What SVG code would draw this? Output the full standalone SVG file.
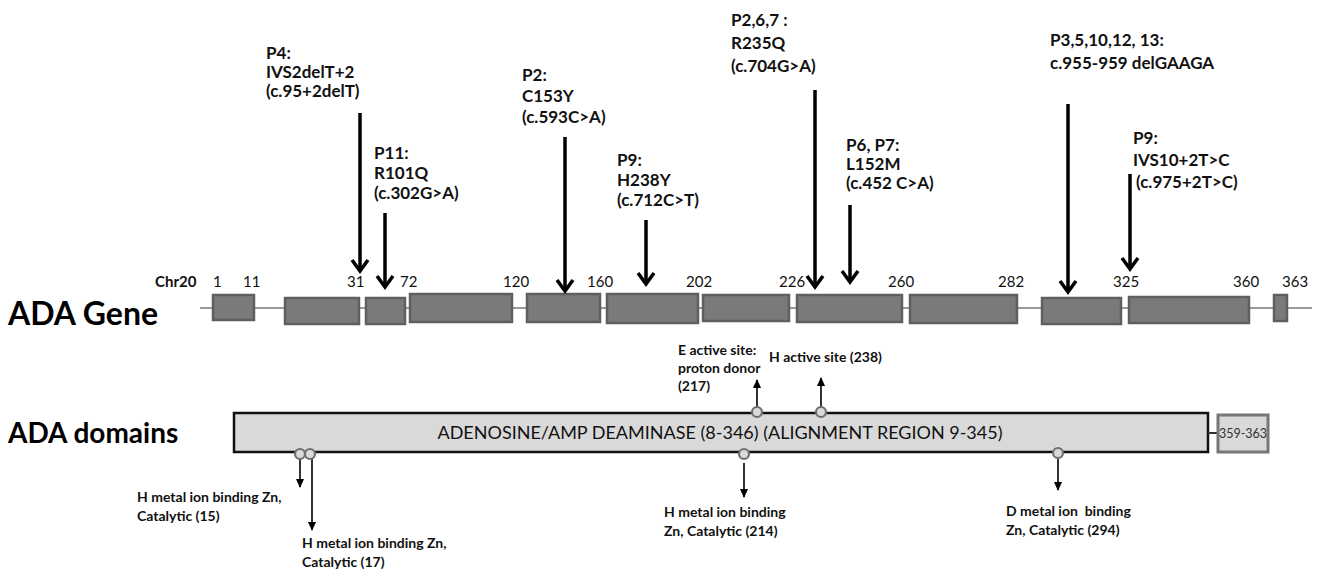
<svg xmlns="http://www.w3.org/2000/svg" width="1322" height="570" viewBox="0 0 1322 570">
<style>
.exon{fill:#7a7a7a;stroke:#5f5f5f;stroke-width:2.5}
.num{font-family:Lato,"Liberation Sans",sans-serif;font-size:15px;fill:#111}
.mut{font-family:Lato,"Liberation Sans",sans-serif;font-size:17px;font-weight:bold;fill:#111}
.site{font-family:Lato,"Liberation Sans",sans-serif;font-size:14px;font-weight:bold;fill:#111;white-space:pre}
.big{font-family:Lato,"Liberation Sans",sans-serif;font-weight:bold;fill:#000}
.mline{stroke:#000;stroke-width:3.5;fill:none}
.mhead{stroke:#000;stroke-width:3.5;fill:none;stroke-linejoin:miter}
.sline{stroke:#000;stroke-width:1.6;fill:none}
.dot{fill:#d9d9d9;stroke:#707070;stroke-width:2.2}
</style>
<defs>
<marker id="sa" markerWidth="9" markerHeight="8" refX="8" refY="4" orient="auto" markerUnits="userSpaceOnUse" viewBox="0 0 9 8">
<path d="M0,0 L9,4 L0,8 Z" fill="#000"/>
</marker>
</defs>

<text class="big" x="8" y="325" font-size="32">ADA Gene</text>
<text class="big" x="8" y="443" font-size="28">ADA domains</text>

<g id="gene">
<line x1="200" y1="308" x2="1312" y2="308" stroke="#9a9a9a" stroke-width="1.8"/>
<rect class="exon" x="213" y="295" width="41" height="25"/>
<rect class="exon" x="285" y="298" width="74" height="26"/>
<rect class="exon" x="366" y="298" width="39" height="26"/>
<rect class="exon" x="410" y="294" width="102" height="28"/>
<rect class="exon" x="527" y="294" width="73" height="28"/>
<rect class="exon" x="607" y="294" width="91" height="29"/>
<rect class="exon" x="703" y="295" width="86" height="26"/>
<rect class="exon" x="797" y="295" width="105" height="27"/>
<rect class="exon" x="910" y="295" width="107" height="28"/>
<rect class="exon" x="1042" y="298" width="79" height="26"/>
<rect class="exon" x="1129" y="297" width="120" height="26"/>
<rect class="exon" x="1274" y="295" width="13" height="26"/>
<text class="num" x="155" y="287" font-weight="bold">Chr20</text>
<text class="num" x="213" y="287">1</text>
<text class="num" x="243" y="287">11</text>
<text class="num" x="347" y="287">31</text>
<text class="num" x="400" y="287">72</text>
<text class="num" x="503" y="287">120</text>
<text class="num" x="587" y="287">160</text>
<text class="num" x="686" y="287">202</text>
<text class="num" x="779" y="287">226</text>
<text class="num" x="888" y="287">260</text>
<text class="num" x="998" y="287">282</text>
<text class="num" x="1113" y="287">325</text>
<text class="num" x="1233" y="287">360</text>
<text class="num" x="1282" y="287">363</text>
</g>

<g id="mutations">
<g id="m-p4">
<text class="mut" x="266" y="59">P4:</text>
<text class="mut" x="266" y="78">IVS2delT+2</text>
<text class="mut" x="266" y="97">(c.95+2delT)</text>
<line class="mline" x1="360" y1="113" x2="360" y2="270"/>
<path class="mhead" d="M352,260 L360,271 L368,260"/>
</g>
<g id="m-p11">
<text class="mut" x="374" y="159">P11:</text>
<text class="mut" x="374" y="179">R101Q</text>
<text class="mut" x="374" y="199">(c.302G&gt;A)</text>
<line class="mline" x1="385" y1="213" x2="385" y2="286"/>
<path class="mhead" d="M377,276 L385,287 L393,276"/>
</g>
<g id="m-p2">
<text class="mut" x="522" y="81">P2:</text>
<text class="mut" x="522" y="102">C153Y</text>
<text class="mut" x="522" y="123">(c.593C&gt;A)</text>
<line class="mline" x1="565" y1="137" x2="565" y2="290"/>
<path class="mhead" d="M557,280 L565,291 L573,280"/>
</g>
<g id="m-p9a">
<text class="mut" x="617" y="166">P9:</text>
<text class="mut" x="617" y="186">H238Y</text>
<text class="mut" x="617" y="206">(c.712C&gt;T)</text>
<line class="mline" x1="646" y1="220" x2="646" y2="283"/>
<path class="mhead" d="M638,273 L646,284 L654,273"/>
</g>
<g id="m-p267">
<text class="mut" x="731" y="26">P2,6,7 :</text>
<text class="mut" x="731" y="49">R235Q</text>
<text class="mut" x="731" y="72">(c.704G&gt;A)</text>
<line class="mline" x1="815" y1="90" x2="815" y2="286"/>
<path class="mhead" d="M807,276 L815,287 L823,276"/>
</g>
<g id="m-p67">
<text class="mut" x="846" y="151">P6, P7:</text>
<text class="mut" x="846" y="170">L152M</text>
<text class="mut" x="846" y="189">(c.452 C&gt;A)</text>
<line class="mline" x1="850" y1="205" x2="850" y2="281"/>
<path class="mhead" d="M842,271 L850,282 L858,271"/>
</g>
<g id="m-p3">
<text class="mut" x="1050" y="46">P3,5,10,12, 13:</text>
<text class="mut" x="1050" y="69">c.955-959 delGAAGA</text>
<line class="mline" x1="1068" y1="104" x2="1068" y2="291"/>
<path class="mhead" d="M1060,281 L1068,292 L1076,281"/>
</g>
<g id="m-p9b">
<text class="mut" x="1133" y="144">P9:</text>
<text class="mut" x="1133" y="166">IVS10+2T&gt;C</text>
<text class="mut" x="1136" y="188">(c.975+2T&gt;C)</text>
<line class="mline" x1="1130" y1="174" x2="1130" y2="268"/>
<path class="mhead" d="M1122,258 L1130,269 L1138,258"/>
</g>
</g>

<g id="domains">
<rect x="234" y="413" width="974" height="39" fill="#d9d9d9" stroke="#111" stroke-width="2.5"/>
<text x="720" y="439" text-anchor="middle" font-family="Lato,'Liberation Sans',sans-serif" font-size="18" fill="#111">ADENOSINE/AMP DEAMINASE (8-346) (ALIGNMENT REGION 9-345)</text>
<line x1="1208" y1="433" x2="1218" y2="433" stroke="#333" stroke-width="2"/>
<rect x="1218" y="415" width="50" height="37" fill="#d9d9d9" stroke="#777" stroke-width="3"/>
<text x="1243" y="438" text-anchor="middle" font-family="Lato,'Liberation Sans',sans-serif" font-size="12.5" fill="#333">359-363</text>
</g>

<g id="connectors">
<line class="sline" x1="757" y1="407" x2="757" y2="380" marker-end="url(#sa)"/>
<line class="sline" x1="821" y1="407" x2="821" y2="378" marker-end="url(#sa)"/>
<line class="sline" x1="300" y1="459" x2="300" y2="487" marker-end="url(#sa)"/>
<line class="sline" x1="312" y1="459" x2="312" y2="530" marker-end="url(#sa)"/>
<line class="sline" x1="744" y1="463" x2="744" y2="497" marker-end="url(#sa)"/>
<line class="sline" x1="1058" y1="459" x2="1058" y2="490" marker-end="url(#sa)"/>
</g>

<g id="sites">
<circle class="dot" cx="757" cy="412" r="5"/>
<circle class="dot" cx="821" cy="412" r="5"/>
<circle class="dot" cx="300" cy="454" r="5"/>
<circle class="dot" cx="310" cy="454" r="5"/>
<circle class="dot" cx="744" cy="454" r="5"/>
<circle class="dot" cx="1058" cy="453" r="5"/>
</g>

<g id="site-labels">
<g id="l-217">
<text class="site" x="678" y="355">E active site:</text>
<text class="site" x="678" y="373">proton donor</text>
<text class="site" x="678" y="391">(217)</text>
</g>
<g id="l-238"><text class="site" x="769" y="362">H active site (238)</text></g>
<g id="l-15">
<text class="site" x="137" y="502">H metal ion binding Zn,</text>
<text class="site" x="137" y="521">Catalytic (15)</text>
</g>
<g id="l-17">
<text class="site" x="302" y="548">H metal ion binding Zn,</text>
<text class="site" x="302" y="567">Catalytic (17)</text>
</g>
<g id="l-214">
<text class="site" x="664" y="517">H metal ion binding</text>
<text class="site" x="664" y="536">Zn, Catalytic (214)</text>
</g>
<g id="l-294">
<text class="site" x="1006" y="516">D metal ion  binding</text>
<text class="site" x="1006" y="535">Zn, Catalytic (294)</text>
</g>
</g>
</svg>
